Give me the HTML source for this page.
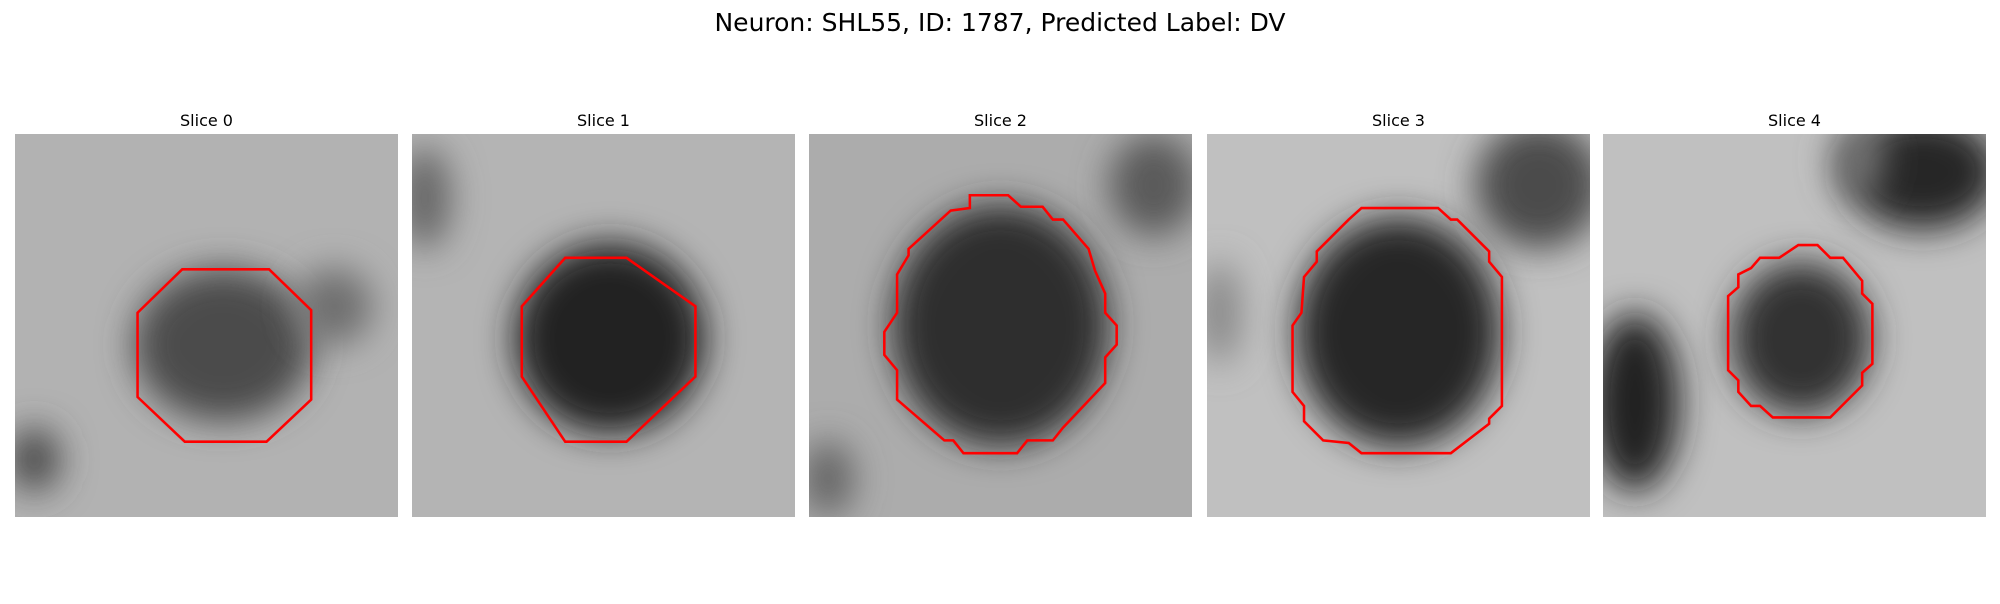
<!DOCTYPE html>
<html><head><meta charset="utf-8"><style>
body{margin:0;background:#fff;width:2000px;height:600px;overflow:hidden;font-family:"DejaVu Sans","Liberation Sans",sans-serif}
</style></head><body>
<svg width="2000" height="600" xmlns="http://www.w3.org/2000/svg">
<defs>
<filter id="b" filterUnits="userSpaceOnUse" x="-20" y="-20" width="70" height="70"><feGaussianBlur stdDeviation="1.4"/></filter>
</defs>
<text x="1000" y="31" font-size="25" text-anchor="middle">Neuron: SHL55, ID: 1787, Predicted Label: DV</text>
<g id="panels"></g>
</svg>
<script>
const titles=["Slice 0","Slice 1","Slice 2","Slice 3","Slice 4"];
const panelX=[15,412,809,1207,1603];
// dark blobs per slice: [cx, cy, rx, ry, gray] in grid units (30x30)
const blobs=[
 [[16.3,16.5,7,6,75],[25,13.5,3,3,110],[1.5,25.5,2,2.5,70]],
 [[15.5,16,7.5,7.5,35],[1,5,2,4,100]],
 [[15,15,8.5,9.5,45],[27,4,3.5,4,90],[1.5,27,2,3,100]],
 [[15,15.5,8,9,40],[26,4,5,5,75],[1,14,1.5,4,130]],
 [[15.5,16,5.5,6,50],[25,3,6,4.5,40],[2.5,21,3.5,7,35],[20,2,2,3,110]]
];
const outlines=[
 [[13.1,10.6],[19.9,10.6],[23.2,13.8],[23.2,20.8],[19.7,24.1],[13.3,24.1],[9.6,20.6],[9.6,14]],
 [[12,9.7],[16.8,9.7],[22.2,13.5],[22.2,19],[16.8,24.1],[12,24.1],[8.6,19],[8.6,13.5]],
 [[12.6,4.8],[15.6,4.8],[16.6,5.7],[18.3,5.7],[19.1,6.7],[19.9,6.7],[21.9,9],[22.4,10.7],[23.2,12.5],[23.2,14],[24.1,15],[24.1,16.5],[23.2,17.5],[23.2,19.5],[19.9,23],[19.1,24],[17.1,24],[16.3,25],[12.1,25],[11.3,24],[10.6,24],[6.9,20.8],[6.9,18.5],[5.9,17.3],[5.9,15.5],[6.9,14],[6.9,11],[7.8,9.5],[7.8,9],[11.1,6],[12.6,5.8]],
 [[12.1,5.8],[18.1,5.8],[19.1,6.7],[19.6,6.7],[22.1,9.2],[22.1,10],[23.1,11.2],[23.1,21.3],[22.1,22.3],[22.1,22.7],[19.1,25],[12.1,25],[11.1,24.2],[9.1,24],[7.6,22.5],[7.6,21.3],[6.7,20.2],[6.7,15],[7.4,14],[7.6,11.2],[8.6,10],[8.6,9.2],[11.1,6.7]],
 [[15.3,8.7],[16.8,8.7],[17.8,9.7],[18.8,9.7],[20.3,11.5],[20.3,12.5],[21.1,13.3],[21.1,18],[20.3,18.7],[20.3,19.7],[18.8,21.2],[17.8,22.2],[13.3,22.2],[12.3,21.3],[11.6,21.3],[10.6,20.2],[10.6,19.3],[9.8,18.5],[9.8,12.7],[10.6,12],[10.6,11],[11.6,10.5],[12.3,9.7],[13.8,9.7]]
];
const bgGray=[178,180,172,192,192];
const NS="http://www.w3.org/2000/svg";
const root=document.getElementById('panels');
const Y0=134;
titles.forEach((t,i)=>{
 const g=document.createElementNS(NS,'g');
 
 
 const tx=document.createElementNS(NS,'text');
 tx.setAttribute('x',panelX[i]+383/2);tx.setAttribute('y',126);
 tx.setAttribute('font-size','16');tx.setAttribute('text-anchor','middle');
 tx.textContent=t;
 
 
 g.appendChild(tx);
 const svg=document.createElementNS(NS,'svg');
 svg.setAttribute('x',panelX[i]);svg.setAttribute('y',Y0);
 svg.setAttribute('width',383);svg.setAttribute('height',383);
 svg.setAttribute('viewBox','0 0 30 30');
 
 
 const bg=document.createElementNS(NS,'rect');
 bg.setAttribute('width',30);bg.setAttribute('height',30);
 const v=bgGray[i];bg.setAttribute('fill',`rgb(${v},${v},${v})`);
 svg.appendChild(bg);
 blobs[i].forEach(b=>{
  const e=document.createElementNS(NS,'ellipse');
  e.setAttribute('cx',b[0]);e.setAttribute('cy',b[1]);e.setAttribute('rx',b[2]);e.setAttribute('ry',b[3]);
  e.setAttribute('fill',`rgb(${b[4]},${b[4]},${b[4]})`);e.setAttribute('filter','url(#b)');
  
  
  svg.appendChild(e);
 });
 const p=document.createElementNS(NS,'polygon');
 p.setAttribute('points',outlines[i].map(q=>q.join(',')).join(' '));
 p.setAttribute('fill','none');p.setAttribute('stroke','#ff0000');p.setAttribute('stroke-width','0.2');
 
 
 svg.appendChild(p);
 g.appendChild(svg);
 root.appendChild(g);
});
</script>
</body></html>
